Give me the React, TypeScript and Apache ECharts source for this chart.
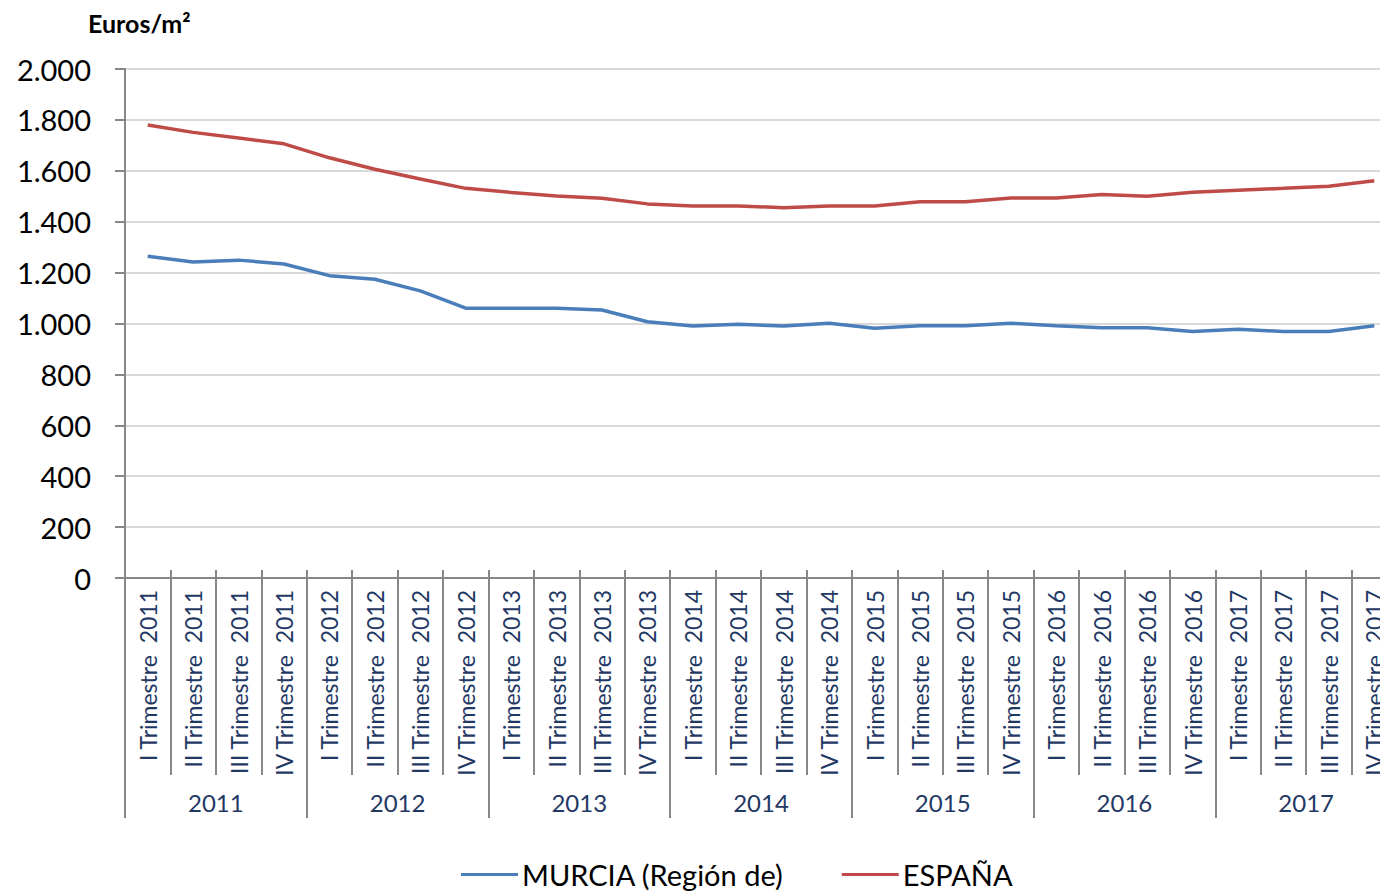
import React, { useEffect, useRef } from "react";
import * as echarts from "echarts";

const years = ["2011", "2012", "2013", "2014", "2015", "2016", "2017"];
const quarterNames = ["I", "II", "III", "IV"];
const categories: string[] = [];
years.forEach((y) => quarterNames.forEach((q) => categories.push(q + " Trimestre  " + y)));

const murcia = [
  1264, 1242, 1249, 1234, 1188, 1174, 1128, 1060,
  1060, 1060, 1053, 1007, 990, 997, 990, 1001,
  981, 991, 991, 1001, 991, 983, 983, 969,
  977, 969, 969, 991,
];
const espana = [
  1780, 1751, 1729, 1706, 1651, 1606, 1568, 1531,
  1515, 1501, 1492, 1470, 1462, 1462, 1455, 1462,
  1462, 1478, 1478, 1493, 1493, 1507, 1500, 1516,
  1524, 1531, 1539, 1561,
];

const FONT = "Lato";
const AXIS_GRAY = "#878787";
const NAVY = "#1F3864";

export default function App() {
  const ref = useRef<HTMLDivElement>(null);
  useEffect(() => {
    if (!ref.current) return;
    const chart = echarts.init(ref.current, undefined, { renderer: "svg" });
    chart.setOption({
      animation: false,
      backgroundColor: "#ffffff",
      textStyle: { fontFamily: FONT },
      title: {
        text: "Euros/m²",
        left: 83,
        top: 5,
        textStyle: { fontFamily: FONT, fontWeight: "bold", fontSize: 25, color: "#000" },
      },
      grid: { left: 125, right: 0, top: 69, bottom: 316, containLabel: false },
      legend: {
        bottom: 0,
        left: 456,
        itemWidth: 57,
        itemHeight: 3,
        itemGap: 58,
        icon: "rect",
        textStyle: { fontFamily: FONT, fontSize: 29, color: "#000", padding: [0, 0, 0, -1] },
        data: ["MURCIA (Región de)", "ESPAÑA"],
      },
      xAxis: [
        {
          type: "category",
          data: categories,
          boundaryGap: true,
          position: "bottom",
          axisLine: { show: true, lineStyle: { color: AXIS_GRAY, width: 2 } },
          axisTick: { show: true, interval: 0, length: 197, lineStyle: { color: AXIS_GRAY, width: 2 } },
          axisLabel: {
            interval: 0,
            rotate: 90,
            margin: 12,
            fontFamily: FONT,
            fontSize: 23,
            color: NAVY,
          },
          splitLine: { show: false },
        },
        {
          type: "category",
          data: categories,
          boundaryGap: true,
          position: "bottom",
          axisLine: { show: false },
          axisTick: { show: true, inside: true, interval: 0, length: 8, lineStyle: { color: AXIS_GRAY, width: 2 } },
          axisLabel: { show: false },
          splitLine: { show: false },
        },
        {
          type: "category",
          data: years,
          boundaryGap: true,
          position: "bottom",
          axisLine: { show: false },
          axisTick: { show: true, interval: 0, length: 240, lineStyle: { color: AXIS_GRAY, width: 2 } },
          axisLabel: {
            interval: 0,
            margin: 212,
            fontFamily: FONT,
            fontSize: 24,
            color: NAVY,
          },
          splitLine: { show: false },
        },
      ],
      yAxis: {
        type: "value",
        min: 0,
        max: 2000,
        interval: 200,
        axisLine: { show: true, lineStyle: { color: AXIS_GRAY, width: 2 } },
        axisTick: { show: true, length: 10, lineStyle: { color: AXIS_GRAY, width: 2 } },
        axisLabel: {
          margin: 34,
          fontFamily: FONT,
          fontSize: 29,
          color: "#000",
          formatter: (v: number) => String(v).replace(/\B(?=(\d{3})+(?!\d))/g, "."),
        },
        splitLine: { show: true, lineStyle: { color: "#D9D9D9", width: 2 } },
      },
      series: [
        {
          name: "MURCIA (Región de)",
          type: "line",
          data: murcia,
          xAxisIndex: 0,
          symbol: "none",
          lineStyle: { color: "#4A7EBB", width: 3.5 },
          itemStyle: { color: "#4A7EBB" },
        },
        {
          name: "ESPAÑA",
          type: "line",
          data: espana,
          xAxisIndex: 0,
          symbol: "none",
          lineStyle: { color: "#BE4B48", width: 3.5 },
          itemStyle: { color: "#BE4B48" },
        },
      ],
    });
    return () => chart.dispose();
  }, []);
  return (
    <div
      style={{ position: "fixed", left: 0, top: 0, width: 1380, height: 894, overflow: "hidden", background: "#fff" }}
    >
      <div ref={ref} style={{ width: 1397, height: 894 }} />
    </div>
  );
}
